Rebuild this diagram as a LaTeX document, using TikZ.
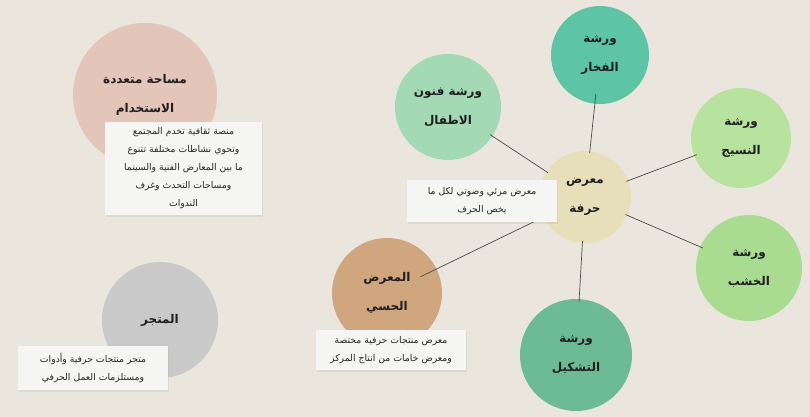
\documentclass[tikz,border=0pt]{standalone}
\usepackage{fontspec}
\TeXXeTstate=1
\newfontfamily\arabicfont[Script=Arabic]{DejaVu Sans}
\usetikzlibrary{shadows}
\newcommand{\artxt}[1]{\beginR #1\endR}
\definecolor{bgc}{HTML}{EAE6DD}
\definecolor{pinkc}{HTML}{E3C5BA}
\definecolor{boxc}{HTML}{F5F5F3}
\definecolor{fonoonc}{HTML}{A3D9B5}
\definecolor{fakharc}{HTML}{5DC4A5}
\definecolor{naseejc}{HTML}{B8E39E}
\definecolor{centerc}{HTML}{E6DFB9}
\definecolor{khashabc}{HTML}{A9DC90}
\definecolor{hissic}{HTML}{D0A67F}
\definecolor{tashkeelc}{HTML}{6DBB95}
\definecolor{mutajarc}{HTML}{C9C9C9}
\definecolor{linec}{HTML}{4A4A4A}
\tikzset{
  blob/.style={circle, draw=none, inner sep=0pt, align=center, text=black!88,
    font=\arabicfont\bfseries\fontsize{12}{29}\selectfont},
  infobox/.style={rectangle, fill=boxc, draw=none, align=center, inner sep=0pt,
    text=black!85, font=\arabicfont\fontsize{9.3}{18}\selectfont,
    drop shadow={opacity=0.12, shadow xshift=1pt, shadow yshift=-1.5pt}},
  link/.style={draw=linec, line width=0.7pt, shorten <=-2pt, shorten >=-3pt}
}
\begin{document}
\begin{tikzpicture}[x=1pt,y=-1pt]
\useasboundingbox (0,0) rectangle (810,417);
\fill[bgc] (0,0) rectangle (810,417);

% circles
\node[blob, fill=pinkc, minimum size=144pt] (pink) at (145,95)
  {\artxt{مساحة متعددة}\\\artxt{الاستخدام}};
\node[blob, fill=fonoonc, minimum size=106pt] (fonoon) at (448,107)
  {\artxt{ورشة فنون}\\\artxt{الاطفال}};
\node[blob, fill=fakharc, minimum size=98pt] (fakhar) at (600,55)
  {\artxt{ورشة}\\\artxt{الفخار}};
\node[blob, fill=naseejc, minimum size=100pt] (naseej) at (741,138)
  {\artxt{ورشة}\\\artxt{النسيج}};
\node[blob, fill=khashabc, minimum size=106pt] (khashab) at (749,268)
  {\artxt{ورشة}\\\artxt{الخشب}};
\node[blob, fill=tashkeelc, minimum size=112pt] (tashkeel) at (576,355)
  {\artxt{ورشة}\\\artxt{التشكيل}};
\node[blob, fill=hissic, minimum size=110pt] (hissi) at (387,293)
  {\artxt{المعرض}\\\artxt{الحسي}};
\node[blob, fill=mutajarc, minimum size=116pt] (mutajar) at (160,320)
  {\artxt{المتجر}};
\node[blob, fill=centerc, minimum size=92pt] (center) at (585,197)
  {\artxt{معرض}\\\artxt{حرفة}};

% connectors
\draw[link] (center) -- (fonoon);
\draw[link, shorten >=-10pt] (center) -- (fakhar);
\draw[link] (center) -- (naseej);
\draw[link] (center) -- (khashab);
\draw[link] (center) -- (tashkeel);
\draw[link, shorten >=-18pt] (center) -- (hissi);

% info boxes
\node[infobox, minimum width=157pt, minimum height=93pt] (box1) at (183.5,168.5)
  {\artxt{منصة ثقافية تخدم المجتمع}\\\artxt{وتحوي نشاطات مختلفة تتنوع}\\\artxt{ما بين المعارض الفنية والسينما}\\\artxt{ومساحات التحدث وغرف}\\\artxt{الندوات}};
\node[infobox, minimum width=150pt, minimum height=42pt] (box2) at (482,201)
  {\artxt{معرض مرئي وصوتي لكل ما}\\\artxt{يخص الحرف}};
\node[infobox, minimum width=150pt, minimum height=40pt] (box3) at (391,350)
  {\artxt{معرض منتجات حرفية مختصة}\\\artxt{ومعرض خامات من انتاج المركز}};
\node[infobox, minimum width=150pt, minimum height=44pt] (box4) at (93,368)
  {\artxt{متجر منتجات حرفية وأدوات}\\\artxt{ومستلزمات العمل الحرفي}};
\end{tikzpicture}
\end{document}
